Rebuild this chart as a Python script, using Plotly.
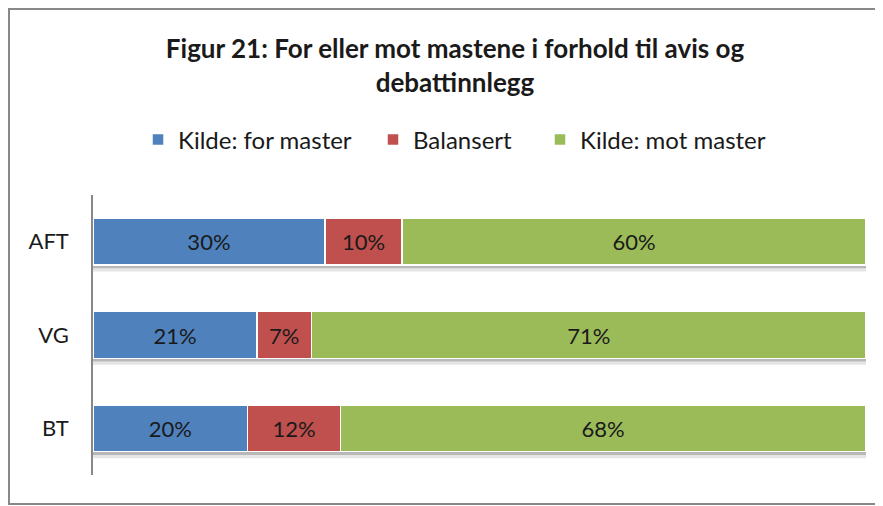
import plotly.graph_objects as go

categories = ["AFT", "VG", "BT"]
series_names = ["Kilde: for master", "Balansert", "Kilde: mot master"]
for_master = [30, 21, 20]
balansert = [10, 7, 12]
mot_master = [60, 71, 68]
colors = ["#4F81BD", "#C0504D", "#9BBB59"]

FONT = "Lato, 'Open Sans', sans-serif"
W, H = 875, 498
L, R, T, B = 85, 17, 187, 31
PW, PH = W - L - R, H - T - B
BARGAP = 0.5

# legend marker left positions (page px)
legend_px = [153, 388, 555]
legend_ids = ["legend", "legend2", "legend3"]

fig = go.Figure()
for name, vals, col, lid in zip(series_names, [for_master, balansert, mot_master], colors, legend_ids):
    fig.add_trace(go.Bar(
        y=categories, x=vals, name=name, orientation="h", legend=lid,
        marker=dict(color=col, line=dict(color="white", width=1.5)),
        text=[f"{v}%" for v in vals], textposition="inside",
        insidetextanchor="middle", textangle=0,
        textfont=dict(family=FONT, size=22, color="#1a1a1a"),
    ))

legend_common = dict(
    orientation="h", xanchor="left", yanchor="middle",
    y=(H - B - 132) / PH,
    font=dict(family=FONT, size=24, color="#1a1a1a"),
    bgcolor="rgba(0,0,0,0)",
)
layout_legends = {}
for lid, px in zip(legend_ids, legend_px):
    layout_legends[lid] = dict(legend_common, x=(px - 3 - 20 - L) / PW)

fig.update_layout(
    width=W, height=H,
    barmode="stack", barnorm="percent", bargap=BARGAP,
    paper_bgcolor="white", plot_bgcolor="white",
    margin=dict(l=L, r=R, t=T, b=B),
    font=dict(family=FONT, color="#1a1a1a"),
    title=dict(
        text="<b>Figur 21: For eller mot mastene i forhold til avis og<br>debattinnlegg</b>",
        x=447 / W, xanchor="center", y=1 - 50 / H, yanchor="middle",
        xref="container", yref="container",
        font=dict(family=FONT, size=26, color="#1a1a1a"),
    ),
    showlegend=True,
    uniformtext=dict(mode="show", minsize=10),
    **layout_legends,
)
fig.update_xaxes(range=[0, 100], showticklabels=False, showgrid=False,
                 zeroline=False, showline=False)
fig.update_yaxes(autorange="reversed", showline=True, linecolor="#888888",
                 linewidth=1.5, showgrid=False, ticks="", ticklabelstandoff=18,
                 tickfont=dict(family=FONT, size=22, color="#1a1a1a"))

# soft drop shadow beneath each stacked bar
half = (1 - BARGAP) / 2
for i, _ in enumerate(categories):
    for d0, d1, a in [(0.0, 0.035, 0.28), (0.035, 0.07, 0.10)]:
        fig.add_shape(type="rect", xref="x", yref="y",
                      x0=0, x1=100.3, y0=i + half + d0, y1=i + half + d1,
                      line=dict(width=0), fillcolor=f"rgba(0,0,0,{a})",
                      layer="below")

fig.add_shape(type="rect", xref="paper", yref="paper",
              x0=(1 - L) / PW, x1=1.05,
              y0=(H - B - 496) / PH, y1=(H - B - 1) / PH,
              line=dict(color="#888888", width=2), fillcolor="rgba(0,0,0,0)",
              layer="below")

fig.write_html("out.html")
